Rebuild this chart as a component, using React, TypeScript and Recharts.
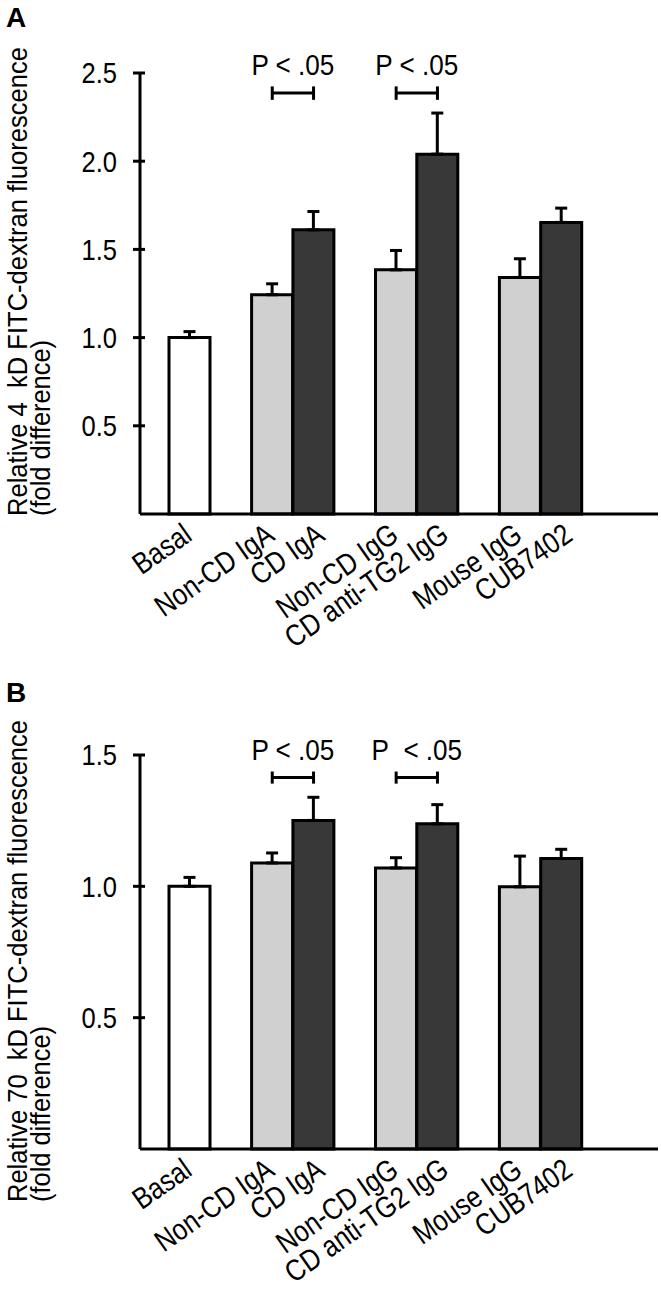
import React from "react";
import { BarChart, Bar, XAxis, YAxis, Cell, ErrorBar, ReferenceLine } from "recharts";

// Permeability of monolayers to FITC-dextran after antibody treatment.
const CATEGORIES = ["Basal", "Non-CD IgA", "CD IgA", "Non-CD IgG", "CD anti-TG2 IgG", "Mouse IgG", "CUB7402"];
const KINDS = ["basal", "control", "treated", "control", "treated", "control", "treated"];
// bars that sit together; an empty slot separates the groups
const GROUPS = [[0], [1, 2], [3, 4], [5, 6]];
const SIG_PAIRS = [
  [1, 2],
  [3, 4],
];

const MEAN_4KD = [1.0, 1.243, 1.611, 1.384, 2.04, 1.341, 1.653];
const SEM_4KD = [0.034, 0.062, 0.104, 0.11, 0.233, 0.106, 0.081];
const TICKS_4KD = [0.5, 1.0, 1.5, 2.0, 2.5];
const SIG_TEXT_4KD = ["P < .05", "P < .05"];

const MEAN_70KD = [1.0, 1.089, 1.251, 1.07, 1.238, 0.998, 1.106];
const SEM_70KD = [0.034, 0.038, 0.088, 0.039, 0.073, 0.117, 0.035];
const TICKS_70KD = [0.5, 1.0, 1.5];
const SIG_TEXT_70KD = ["P < .05", "P\u00a0\u00a0< .05"];

const FONT = '"Liberation Sans", Arial, Helvetica, sans-serif';
const FILLS: Record<string, string> = { basal: "#ffffff", control: "#d0d0d0", treated: "#383838" };

type Row = { name: string; value: number | null; err?: number[]; kind: string };

function buildRows(means: number[], sems: number[]): Row[] {
  const rows: Row[] = [];
  GROUPS.forEach((g, gi) => {
    if (gi > 0) rows.push({ name: `gap-${gi}`, value: null, kind: "none" });
    g.forEach((i) => rows.push({ name: CATEGORIES[i], value: means[i], err: [0, sems[i]], kind: KINDS[i] }));
  });
  return rows;
}

// the figure uses a narrow sans; squeeze Liberation Sans along the baseline
function Narrow({
  x,
  y,
  angle = 0,
  size,
  squeeze = 0.86,
  anchor = "start",
  dy,
  children,
}: {
  x: number;
  y: number;
  angle?: number;
  size: number;
  squeeze?: number;
  anchor?: string;
  dy?: string;
  children: React.ReactNode;
}) {
  return (
    <text
      x={0}
      y={0}
      dy={dy}
      transform={`translate(${x},${y}) rotate(${angle}) scale(${squeeze},1)`}
      textAnchor={anchor as any}
      fontSize={size}
      fontFamily={FONT}
      fill="#000"
      style={{ whiteSpace: "pre" }}
    >
      {children}
    </text>
  );
}

function YTick(props: any) {
  const { x, y, payload } = props;
  return (
    <g>
      <line x1={x - 7} x2={x + 5} y1={y} y2={y} stroke="#000" strokeWidth={3} />
      <Narrow x={x - 23} y={y} dy="0.36em" anchor="end" size={29} squeeze={0.88}>
        {payload.value.toFixed(1)}
      </Narrow>
    </g>
  );
}

function XTick(props: any) {
  const { x, y, payload } = props;
  if (String(payload.value).startsWith("gap-")) return null;
  // labels under the second bar of a pair sit a little to the right
  const shift = KINDS[CATEGORIES.indexOf(payload.value)] === "treated" ? 9 : 0;
  return (
    <Narrow x={x + 4 + shift} y={y + 25} angle={-35} size={30} squeeze={0.85} anchor="end">
      {payload.value}
    </Narrow>
  );
}

function Panel({
  letter,
  top,
  letterY,
  means,
  sems,
  ticks,
  height,
  margin,
  sigLevel,
  sigTick,
  sigTexts,
  yLabel,
  labelLength,
  labelDrop,
}: {
  letter: string;
  top: number;
  letterY: number;
  means: number[];
  sems: number[];
  ticks: number[];
  height: number;
  margin: { top: number; right: number; bottom: number; left: number };
  sigLevel: number;
  sigTick: number;
  sigTexts: string[];
  yLabel: string;
  labelLength: number;
  labelDrop: number;
}) {
  const rows = buildRows(means, sems);
  const max = ticks[ticks.length - 1];
  return (
    <div style={{ position: "absolute", left: 0, top, width: 661, height }}>
      <div
        style={{
          position: "absolute",
          left: 6,
          top: letterY,
          fontFamily: FONT,
          fontWeight: 700,
          fontSize: 28,
          lineHeight: "28px",
        }}
      >
        {letter}
      </div>
      <BarChart width={661} height={height} data={rows} margin={margin} barCategoryGap={0} barGap={0}>
        <XAxis
          dataKey="name"
          interval={0}
          height={30}
          padding={{ left: 29, right: 76 }}
          tickLine={false}
          tickSize={0}
          tickMargin={0}
          axisLine={{ stroke: "#000", strokeWidth: 3 }}
          tick={<XTick />}
        />
        <YAxis
          width={60}
          domain={[0, max]}
          ticks={ticks}
          tickLine={false}
          tickSize={0}
          tickMargin={0}
          axisLine={{ stroke: "#000", strokeWidth: 3 }}
          tick={<YTick />}
          label={{
            content: (p: any) => {
              const vb = p.viewBox;
              const bottom = vb.y + vb.height + labelDrop;
              return (
                <g fontFamily={FONT} fontSize={28} fill="#000">
                  <text
                    transform={`translate(27,${bottom}) rotate(-90)`}
                    textAnchor="start"
                    textLength={labelLength}
                    lengthAdjust="spacingAndGlyphs"
                  >
                    {yLabel}
                  </text>
                  <text
                    transform={`translate(50,${bottom}) rotate(-90)`}
                    textAnchor="start"
                    textLength={176}
                    lengthAdjust="spacingAndGlyphs"
                  >
                    (fold difference)
                  </text>
                </g>
              );
            },
          }}
        />
        <Bar dataKey="value" stroke="#000" strokeWidth={3} isAnimationActive={false}>
          {rows.map((r, i) => (
            <Cell key={i} fill={FILLS[r.kind] ?? "none"} />
          ))}
          <ErrorBar dataKey="err" width={6} stroke="#000" strokeWidth={3} isAnimationActive={false} />
        </Bar>
        {SIG_PAIRS.map(([a, b], k) => (
          <ReferenceLine
            key={`s${k}`}
            segment={[
              { x: CATEGORIES[a], y: sigLevel },
              { x: CATEGORIES[b], y: sigLevel },
            ]}
            stroke="#000"
            strokeWidth={3}
            label={{
              content: (p: any) => {
                const vb = p.viewBox;
                return (
                  <Narrow x={vb.x + vb.width / 2} y={vb.y - 18} anchor="middle" size={29} squeeze={0.9}>
                    {sigTexts[k]}
                  </Narrow>
                );
              },
            }}
          />
        ))}
        {SIG_PAIRS.flatMap(([a, b], k) =>
          [a, b].map((c) => (
            <ReferenceLine
              key={`e${k}-${c}`}
              segment={[
                { x: CATEGORIES[c], y: sigLevel - sigTick },
                { x: CATEGORIES[c], y: sigLevel + sigTick },
              ]}
              stroke="#000"
              strokeWidth={3}
            />
          ))
        )}
      </BarChart>
    </div>
  );
}

export default function App() {
  return (
    <div style={{ position: "absolute", left: 0, top: 0, width: 661, height: 1295, background: "#fff" }}>
      <Panel
        letter="A"
        top={0}
        letterY={4}
        means={MEAN_4KD}
        sems={SEM_4KD}
        ticks={TICKS_4KD}
        height={700}
        margin={{ top: 73, right: 3, bottom: 156, left: 80 }}
        sigLevel={2.386}
        sigTick={0.038}
        sigTexts={SIG_TEXT_4KD}
        yLabel={"Relative 4\u00a0\u00a0kD FITC-dextran fluorescence"}
        labelLength={469}
        labelDrop={2}
      />
      <Panel
        letter="B"
        top={640}
        letterY={39}
        means={MEAN_70KD}
        sems={SEM_70KD}
        ticks={TICKS_70KD}
        height={655}
        margin={{ top: 115, right: 3, bottom: 116, left: 80 }}
        sigLevel={1.414}
        sigTick={0.023}
        sigTexts={SIG_TEXT_70KD}
        yLabel={"Relative 70\u00a0\u00a0kD FITC-dextran fluorescence"}
        labelLength={482}
        labelDrop={53}
      />
    </div>
  );
}
